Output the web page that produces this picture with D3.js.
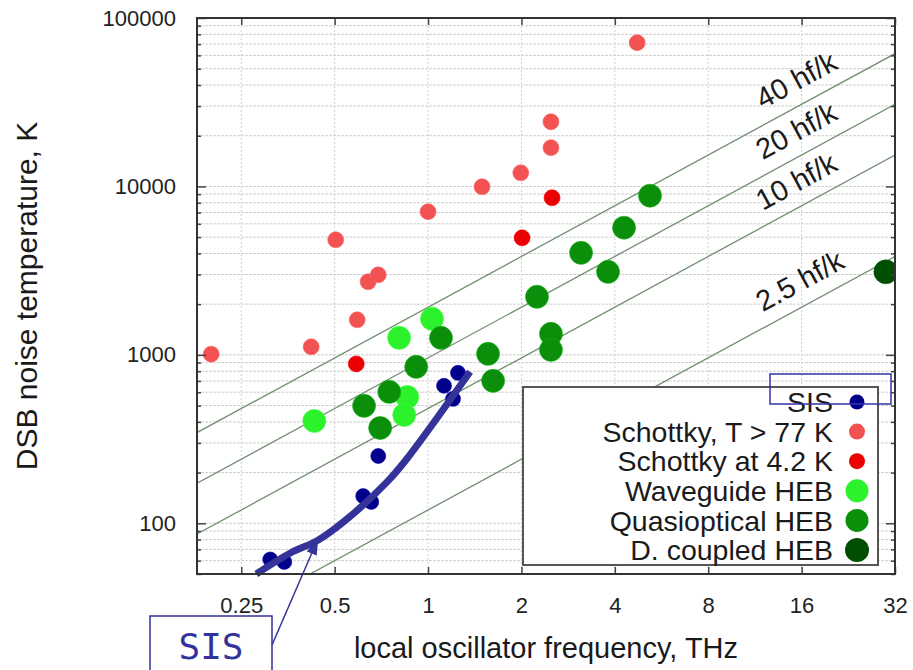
<!DOCTYPE html>
<html>
<head>
<meta charset="utf-8">
<script src="https://cdn.jsdelivr.net/npm/d3@7"></script>
<style>
  body { margin: 0; background: #fff; }
  text { font-family: "Liberation Sans", Arial, sans-serif; fill: #1a1a1a; }
</style>
</head>
<body>
<script>
// ---- data (frequency in THz, DSB noise temperature in K) ----
var sisPoints = [[0.31, 61], [0.344, 59], [0.618, 145], [0.656, 134], [0.691, 251],
                 [1.126, 655], [1.249, 782], [1.204, 548]];
var schottkyWarm = [[0.20, 1010], [0.42, 1116], [0.504, 4820], [0.591, 1614], [0.641, 2716],
                    [0.691, 2985], [1.0, 7080], [1.493, 9960], [1.99, 12050], [2.49, 16980],
                    [2.49, 24210], [4.72, 71400]];
var schottkyCold = [[0.587, 884], [2.01, 4955], [2.51, 8570]];
var waveguideHEB = [[0.430, 405], [0.807, 1262], [1.030, 1637], [0.857, 562], [0.838, 440]];
var quasiHEB = [[0.622, 498], [0.701, 368], [0.750, 603], [0.916, 849], [1.101, 1262],
                [1.561, 1014], [1.621, 701], [2.245, 2213], [2.49, 1333], [2.49, 1071],
                [3.113, 4036], [3.803, 3111], [4.283, 5690], [5.194, 8810]];
var dcoupledHEB = [[29.9, 3111]];

// hand drawn SIS trend curve
var sisTrend = [[0.2795, 50], [0.360, 66.6], [0.443, 79.6], [0.553, 107.5], [0.738, 176],
                [0.86, 245], [1.366, 793]];

// quantum limit lines, N * hf/k (h/k = 47.99 K/THz)
var hOverK = 47.99;
var lineMultiples = [40, 20, 10, 2.5];
var lineLabels = ["40 hf/k", "20 hf/k", "10 hf/k", "2.5 hf/k"];
var lineLabelFreq = 12.6;

var xTicks = [0.25, 0.5, 1, 2, 4, 8, 16, 32];
var xTickLabels = ["0.25", "0.5", "1", "2", "4", "8", "16", "32"];
var yTicks = [100, 1000, 10000, 100000];
var yTickLabels = ["100", "1000", "10000", "100000"];

var seriesNames = ["SIS", "Schottky, T > 77 K", "Schottky at 4.2 K",
                   "Waveguide HEB", "Quasioptical HEB", "D. coupled HEB"];
var seriesColors = ["#00008a", "#f25252", "#ea0000", "#2cf22c", "#0b8f0b", "#004f00"];
var seriesRadius = [7.5, 8, 8, 11.5, 11.5, 12];

// ---- layout ----
var width = 913, height = 670;
var margin = {top: 18, left: 197, bottom: 96, right: 18};
var plotW = width - margin.left - margin.right;
var plotH = height - margin.top - margin.bottom;

var svg = d3.select("body").append("svg")
  .attr("width", width)
  .attr("height", height);

var defs = svg.append("defs");
defs.append("clipPath").attr("id", "plotClip")
  .append("rect").attr("width", plotW).attr("height", plotH);
defs.append("marker")
  .attr("id", "arrowHead")
  .attr("viewBox", "0 0 10 10")
  .attr("refX", 10).attr("refY", 5)
  .attr("markerWidth", 17).attr("markerHeight", 11)
  .attr("markerUnits", "userSpaceOnUse")
  .attr("preserveAspectRatio", "none")
  .attr("orient", "auto")
  .append("path").attr("d", "M0,0L10,5L0,10z").attr("fill", "#33339a");

var x = d3.scaleLog().base(2).domain([0.18, 32]).range([0, plotW]);
var y = d3.scaleLog().domain([50, 100000]).range([plotH, 0]);

var g = svg.append("g")
  .attr("transform", "translate(" + margin.left + "," + margin.top + ")");

// grid
var grid = g.append("g").attr("class", "grid");
grid.selectAll(".hgrid")
  .data(y.ticks())
  .enter().append("line")
  .attr("x1", 0).attr("x2", plotW)
  .attr("y1", d => y(d)).attr("y2", d => y(d))
  .attr("stroke", "#cfcfcf")
  .attr("stroke-dasharray", "3,1")
  .attr("stroke-width", 1);
grid.selectAll(".vgrid")
  .data(xTicks)
  .enter().append("line")
  .attr("y1", 0).attr("y2", plotH)
  .attr("x1", d => x(d)).attr("x2", d => x(d))
  .attr("stroke", "#cfcfcf")
  .attr("stroke-dasharray", "2,2")
  .attr("stroke-width", 1);

// hf/k lines
var plot = g.append("g").attr("clip-path", "url(#plotClip)");
var fRange = x.domain();
plot.selectAll(".qline")
  .data(lineMultiples)
  .enter().append("line")
  .attr("x1", x(fRange[0])).attr("x2", x(fRange[1]))
  .attr("y1", d => y(d * hOverK * fRange[0]))
  .attr("y2", d => y(d * hOverK * fRange[1]))
  .attr("stroke", "#6f8f6f")
  .attr("stroke-width", 1.3);

var slopeAngle = Math.atan2(y(2 * hOverK * 8) - y(2 * hOverK * 4), x(8) - x(4)) * 180 / Math.PI;
g.selectAll(".qlabel")
  .data(lineMultiples)
  .enter().append("text")
  .attr("transform", d => "translate(" + x(lineLabelFreq) + "," + y(d * hOverK * lineLabelFreq) + ")rotate(" + slopeAngle + ")")
  .attr("x", 0).attr("y", -14)
  .attr("font-size", 29)
  .text((d, i) => lineLabels[i]);

// points
var allSeries = [sisPoints, schottkyWarm, schottkyCold, waveguideHEB, quasiHEB, dcoupledHEB];
var drawOrder = [1, 2, 0, 3, 4, 5];
drawOrder.forEach(function(s) {
  plot.append("g").selectAll("circle")
    .data(allSeries[s])
    .enter().append("circle")
    .attr("cx", d => x(d[0]))
    .attr("cy", d => y(d[1]))
    .attr("r", seriesRadius[s])
    .attr("fill", seriesColors[s])
    .attr("stroke", d3.color(seriesColors[s]).brighter(0.6))
    .attr("stroke-opacity", 0.6)
    .attr("stroke-width", 1);
});

// SIS trend curve
var trendLine = d3.line()
  .x(d => x(d[0]))
  .y(d => y(d[1]))
  .curve(d3.curveCatmullRom);
g.append("path")
  .datum(sisTrend)
  .attr("d", trendLine)
  .attr("fill", "none")
  .attr("stroke", "#33339a")
  .attr("stroke-width", 7);

// axes (inward ticks)
function styleAxis(sel) {
  sel.select(".domain").remove();
  sel.selectAll(".tick line").attr("stroke", "#444").attr("stroke-width", 1.5);
  sel.selectAll("text")
    .attr("font-size", 22)
    .style("fill", "#222");
}
var minorY = y.ticks().filter(d => yTicks.indexOf(d) < 0);

g.append("g")
  .attr("transform", "translate(0," + plotH + ")")
  .call(d3.axisBottom(x).tickValues(xTicks).tickFormat((d, i) => xTickLabels[i])
    .tickSizeInner(-7).tickSizeOuter(0).tickPadding(23))
  .call(styleAxis);
g.append("g")
  .call(d3.axisTop(x).tickValues(xTicks).tickFormat("").tickSizeInner(-7).tickSizeOuter(0))
  .call(styleAxis);
g.append("g")
  .call(d3.axisLeft(y).tickValues(yTicks).tickFormat((d, i) => yTickLabels[i])
    .tickSizeInner(-9).tickSizeOuter(0).tickPadding(21))
  .call(styleAxis);
g.append("g")
  .call(d3.axisLeft(y).tickValues(minorY).tickFormat("").tickSizeInner(-4).tickSizeOuter(0))
  .call(styleAxis);
g.append("g")
  .attr("transform", "translate(" + plotW + ",0)")
  .call(d3.axisRight(y).tickValues(yTicks).tickFormat("").tickSizeInner(-9).tickSizeOuter(0))
  .call(styleAxis);
g.append("g")
  .attr("transform", "translate(" + plotW + ",0)")
  .call(d3.axisRight(y).tickValues(minorY).tickFormat("").tickSizeInner(-4).tickSizeOuter(0))
  .call(styleAxis);

// legend
var legW = 355, legH = 178;
var legend = g.append("g")
  .attr("transform", "translate(" + (plotW - 17 - legW) + "," + (plotH - 9 - legH) + ")");
legend.append("rect")
  .attr("width", legW).attr("height", legH)
  .attr("fill", "#fff")
  .attr("stroke", "#555")
  .attr("stroke-width", 2);
var legRow = legend.selectAll(".row")
  .data(seriesNames)
  .enter().append("g")
  .attr("transform", (d, i) => "translate(0," + (15 + i * 29.6) + ")");
legRow.append("text")
  .attr("x", 310)
  .attr("dy", "0.36em")
  .attr("text-anchor", "end")
  .attr("font-size", 28.5)
  .text(d => d);
legRow.append("circle")
  .attr("cx", 334)
  .attr("r", (d, i) => seriesRadius[i])
  .attr("fill", (d, i) => seriesColors[i]);

// frame
g.append("rect")
  .attr("width", plotW).attr("height", plotH)
  .attr("fill", "none")
  .attr("stroke", "#333")
  .attr("stroke-width", 2);

// axis titles
svg.append("text")
  .attr("transform", "translate(37," + (margin.top + plotH / 2) + ")rotate(-90)")
  .attr("text-anchor", "middle")
  .attr("font-size", 30)
  .text("DSB noise temperature, K");
svg.append("text")
  .attr("x", margin.left + plotW / 2)
  .attr("y", 658)
  .attr("text-anchor", "middle")
  .attr("font-size", 29)
  .text("local oscillator frequency, THz");

// annotations: SIS callout and highlight box
var callout = svg.append("g");
callout.append("rect")
  .attr("x", 150).attr("y", 616)
  .attr("width", 122).attr("height", 70)
  .attr("fill", "none")
  .attr("stroke", "#33339a")
  .attr("stroke-width", 1.5);
callout.append("text")
  .attr("x", 211).attr("y", 659)
  .attr("text-anchor", "middle")
  .style("font-family", "'DejaVu Sans Mono', monospace")
  .attr("font-size", 36)
  .style("fill", "#33339a")
  .text("SIS");
callout.append("line")
  .attr("x1", 272).attr("y1", 645)
  .attr("x2", margin.left + x(sisTrend[2][0]))
  .attr("y2", margin.top + y(sisTrend[2][1]) - 2)
  .attr("stroke", "#33339a")
  .attr("stroke-width", 1.5)
  .attr("marker-end", "url(#arrowHead)");

svg.append("rect")
  .attr("x", 770).attr("y", 374)
  .attr("width", 121).attr("height", 30)
  .attr("fill", "none")
  .attr("stroke", "#3333aa")
  .attr("stroke-width", 1.5);
</script>
</body>
</html>
